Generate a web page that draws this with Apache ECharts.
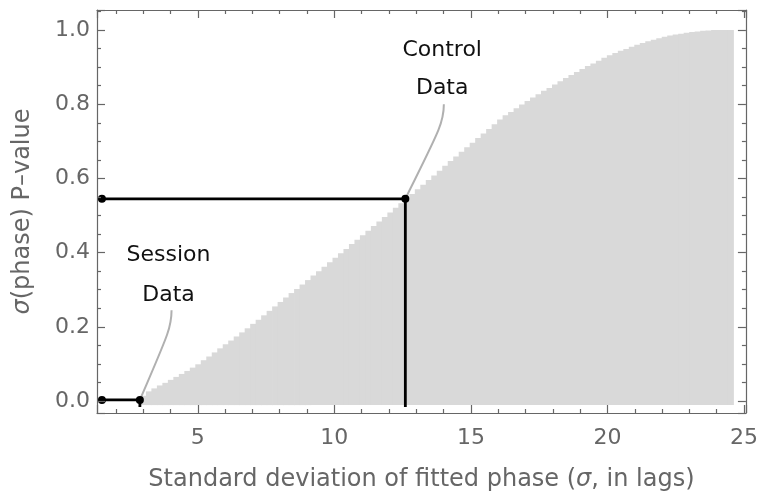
<!DOCTYPE html>
<html>
<head>
<meta charset="utf-8">
<script src="https://cdn.jsdelivr.net/npm/echarts@6/dist/echarts.min.js"></script>
<style>
  html, body { margin: 0; padding: 0; background: #ffffff; }
  #chart { width: 761px; height: 498px; }
</style>
</head>
<body>
<div id="chart"></div>
<script>
// Histogram of the null distribution (cumulative P-value per sigma bin)
const binStart = 2.9;
const binEnd = 24.6;
const pValueCdf = [
  0.014, 0.026, 0.034, 0.042, 0.049, 0.057, 0.065, 0.073, 0.081, 0.090,
  0.099, 0.110, 0.120, 0.131, 0.142, 0.153, 0.163, 0.174, 0.185, 0.196,
  0.208, 0.219, 0.231, 0.243, 0.255, 0.267, 0.279, 0.291, 0.302, 0.314,
  0.326, 0.338, 0.350, 0.362, 0.374, 0.386, 0.398, 0.410, 0.423, 0.435,
  0.447, 0.459, 0.472, 0.484, 0.496, 0.508, 0.521, 0.533, 0.545, 0.558,
  0.571, 0.583, 0.596, 0.608, 0.621, 0.634, 0.647, 0.659, 0.672, 0.684,
  0.696, 0.709, 0.721, 0.733, 0.746, 0.759, 0.770, 0.779, 0.789, 0.799,
  0.809, 0.818, 0.827, 0.836, 0.844, 0.853, 0.862, 0.871, 0.879, 0.887,
  0.895, 0.903, 0.910, 0.917, 0.925, 0.932, 0.938, 0.944, 0.949, 0.955,
  0.960, 0.965, 0.970, 0.974, 0.978, 0.982, 0.985, 0.988, 0.990, 0.993,
  0.995, 0.996, 0.998, 0.999, 1.000, 1.000, 1.000, 1.000
];

// Observed sigma values and their P-values
const sessionPoint = [2.88, 0.003];
const controlPoint = [12.6, 0.545];
const refLineStartSigma = 1.49;

// Tick labels
const xTickLabels = ['5', '10', '15', '20', '25'];
const yTickLabels = ['0.0', '0.2', '0.4', '0.6', '0.8', '1.0'];

// Callout text
const sessionCallout = ['Session', 'Data'];
const controlCallout = ['Control', 'Data'];

// ---- drawing ----
const FONT = 'DejaVu Sans';
const AXIS_COLOR = '#666666';
const LABEL_COLOR = '#666666';
const X_MIN = 1.31, X_MAX = 25.07;
const Y_MIN = -0.0323, Y_MAX = 1.054;
const BAR_BASE = -0.011;
const LINE_BASE = -0.016;

const binWidth = (binEnd - binStart) / pValueCdf.length;
const bins = pValueCdf.map((v, k) => [binStart + k * binWidth, binStart + (k + 1) * binWidth, v]);

const callouts = [
  { from: sessionPoint, leaderEnd: [4.04, 0.245], labelX: 3.93, labelY: [0.394, 0.286], lines: sessionCallout },
  { from: controlPoint, leaderEnd: [14.01, 0.80], labelX: 13.95, labelY: [0.946, 0.843], lines: controlCallout }
];

function xLabel(v) {
  const s = String(Math.round(v));
  return Math.abs(v - Math.round(v)) < 1e-6 && xTickLabels.indexOf(s) >= 0 ? s : '';
}
function yLabel(v) {
  const s = v.toFixed(1);
  return Math.abs(v * 10 - Math.round(v * 10)) < 1e-6 && yTickLabels.indexOf(s) >= 0 ? s : '';
}

function frameAxis(extra, minorSplit) {
  return Object.assign({
    type: 'value',
    z: 10,
    axisLine: { show: true, onZero: false, lineStyle: { color: AXIS_COLOR, width: 1.2 } },
    axisTick: { show: true, inside: true, length: 8, lineStyle: { color: AXIS_COLOR, width: 1.2 } },
    minorTick: { show: true, splitNumber: minorSplit, length: 4, lineStyle: { color: AXIS_COLOR, width: 1.2 } },
    splitLine: { show: false },
    minorSplitLine: { show: false }
  }, extra);
}

const nameRich = {
  i: { fontStyle: 'italic', fontFamily: FONT, fontSize: 24, color: LABEL_COLOR }
};

const chart = echarts.init(document.getElementById('chart'), null, { renderer: 'canvas' });

chart.setOption({
  animation: false,
  backgroundColor: '#ffffff',
  grid: { left: 97, right: 13, top: 10, bottom: 85, containLabel: false },
  xAxis: [
    frameAxis({
      position: 'bottom', min: X_MIN, max: X_MAX,
      axisLabel: { color: LABEL_COLOR, fontSize: 22, fontFamily: FONT, margin: 14, formatter: xLabel },
      name: 'Standard deviation of fitted phase ({i|σ}, in lags)',
      nameLocation: 'middle', nameGap: 55,
      nameTextStyle: { color: LABEL_COLOR, fontSize: 24, fontFamily: FONT, rich: nameRich }
    }, 5),
    frameAxis({
      position: 'top', min: X_MIN, max: X_MAX,
      axisLabel: { show: false }
    }, 5)
  ],
  yAxis: [
    frameAxis({
      position: 'left', min: Y_MIN, max: Y_MAX,
      axisLabel: { color: LABEL_COLOR, fontSize: 22, fontFamily: FONT, margin: 7, formatter: yLabel },
      name: '{i|σ}(phase) P–value',
      nameLocation: 'middle', nameGap: 62, nameRotate: 90,
      nameTextStyle: { color: LABEL_COLOR, fontSize: 24, fontFamily: FONT, rich: nameRich }
    }, 4),
    frameAxis({
      position: 'right', min: Y_MIN, max: Y_MAX,
      axisLabel: { show: false }
    }, 4)
  ],
  series: [
    {
      type: 'custom',
      name: 'null distribution',
      xAxisIndex: 0, yAxisIndex: 0,
      data: bins,
      encode: { x: [0, 1], y: 2 },
      z: 1,
      renderItem: function (params, api) {
        const top = api.coord([api.value(0), api.value(2)]);
        const bottom = api.coord([api.value(1), BAR_BASE]);
        return {
          type: 'rect',
          shape: { x: top[0], y: top[1], width: bottom[0] - top[0] + 0.8, height: bottom[1] - top[1] },
          style: { fill: '#d9d9d9' }
        };
      }
    },
    {
      type: 'custom',
      name: 'callouts',
      xAxisIndex: 0, yAxisIndex: 0,
      data: callouts.map(c => c.from),
      encode: { x: 0, y: 1 },
      z: 2,
      renderItem: function (params, api) {
        const c = callouts[params.dataIndex];
        const p0 = api.coord(c.from);
        const pe = api.coord(c.leaderEnd);
        const dx = pe[0] - p0[0], dy = pe[1] - p0[1];
        const children = [{
          type: 'bezierCurve',
          shape: {
            x1: p0[0], y1: p0[1], x2: pe[0], y2: pe[1],
            cpx1: p0[0] + 0.85 * dx, cpy1: p0[1] + 0.7 * dy,
            cpx2: pe[0], cpy2: pe[1] - 0.2 * dy
          },
          style: { stroke: '#b0b0b0', lineWidth: 2, fill: null }
        }];
        c.lines.forEach(function (t, i) {
          const p = api.coord([c.labelX, c.labelY[i]]);
          children.push({
            type: 'text',
            x: p[0], y: p[1],
            style: { text: t, fill: '#111111', fontSize: 22, fontFamily: FONT, align: 'center', verticalAlign: 'middle' }
          });
        });
        return { type: 'group', children: children };
      }
    },
    {
      type: 'line',
      name: 'session',
      xAxisIndex: 0, yAxisIndex: 0,
      z: 3,
      symbol: 'circle', symbolSize: 8,
      itemStyle: { color: '#000000' },
      lineStyle: { color: '#000000', width: 2.8 },
      data: [[refLineStartSigma, sessionPoint[1]], sessionPoint, { value: [sessionPoint[0], LINE_BASE], symbol: 'none' }]
    },
    {
      type: 'line',
      name: 'control',
      xAxisIndex: 0, yAxisIndex: 0,
      z: 3,
      symbol: 'circle', symbolSize: 8,
      itemStyle: { color: '#000000' },
      lineStyle: { color: '#000000', width: 2.8 },
      data: [[refLineStartSigma, controlPoint[1]], controlPoint, { value: [controlPoint[0], LINE_BASE], symbol: 'none' }]
    }
  ]
});
</script>
</body>
</html>
